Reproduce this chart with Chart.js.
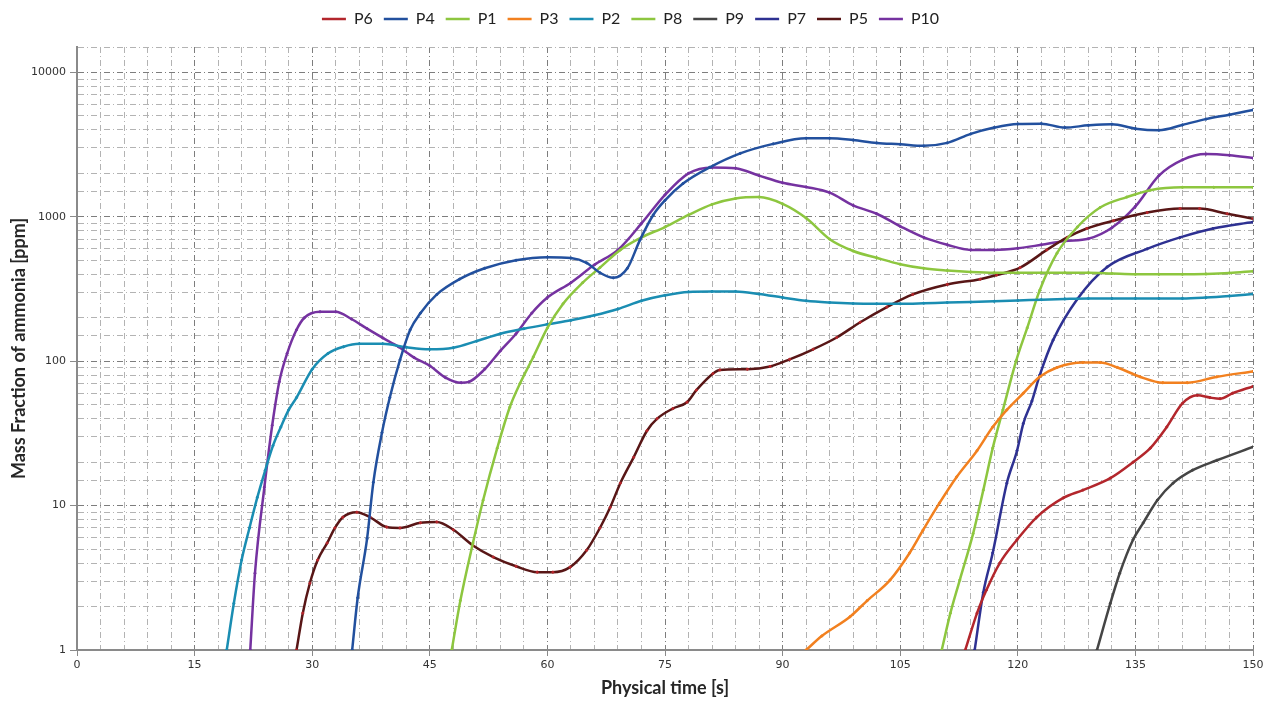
<!DOCTYPE html>
<html>
<head>
<meta charset="utf-8">
<script src="https://cdn.jsdelivr.net/npm/chart.js@4"></script>
<style>
  html, body { margin: 0; padding: 0; background: #fff; }
  #wrap { width: 1271px; height: 707px; }
</style>
</head>
<body>
<div id="wrap"><canvas id="chart"></canvas></div>
<script>
// values (time in s, mass fraction in ppm)
const p6Time = [113.3, 114.8, 116, 117.7, 119.9, 122.4, 125.8, 128.3, 131.8, 134.7, 136.9, 139, 141, 142.9, 144.5, 145.8, 147.4, 150]
const p6Vals = [1, 1.8, 2.6, 4, 5.8, 8.3, 11.3, 12.8, 15.5, 20, 25, 35, 51, 58, 56, 55, 60, 67]

const p4Time = [35.1, 35.8, 37, 37.8, 38.9, 39.9, 41.2, 42.5, 43.8, 45.9, 48.8, 52, 56, 60, 63, 65, 66.7, 68.4, 70.2, 71.8, 73.5, 75, 77.3, 80.7, 84.6, 88.8, 93, 96, 99, 102, 105, 108, 111, 114, 117, 120, 123, 126, 129, 132, 135, 138, 141, 144, 147, 150]
const p4Vals = [1, 2.3, 5.9, 14.5, 32, 56, 102, 165, 215, 290, 370, 440, 500, 525, 518, 480, 410, 378, 440, 690, 1030, 1300, 1700, 2200, 2750, 3200, 3500, 3500, 3400, 3250, 3180, 3100, 3250, 3750, 4150, 4400, 4420, 4150, 4300, 4380, 4080, 3980, 4330, 4750, 5100, 5500]

const p1Time = [47.8, 48.9, 50.5, 51.8, 53.6, 55.2, 56.5, 58.2, 60, 62, 64.5, 66.7, 69.3, 72, 75, 78, 81, 84, 87, 90, 93, 96, 99, 102, 105, 108, 111, 114, 117, 120, 123, 126, 129, 132, 135, 138, 141, 144, 147, 150]
const p1Vals = [1, 2.2, 5.5, 10.9, 25, 48, 70, 107, 170, 250, 350, 445, 590, 720, 850, 1030, 1220, 1340, 1370, 1230, 980, 700, 580, 520, 470, 440, 425, 415, 410, 410, 410, 410, 410, 405, 400, 400, 400, 402, 408, 420]

const p3Time = [93, 95, 98.6, 100.8, 103.7, 106.2, 107.9, 110, 112.2, 114.8, 116.8, 118.6, 120.7, 122.8, 125, 128.3, 130.5, 132.7, 135.6, 138.5, 141.6, 145.4, 150]
const p3Vals = [1, 1.25, 1.7, 2.2, 3.05, 4.7, 6.75, 10.4, 15.8, 24, 35, 46, 60, 78, 90.5, 98, 98, 90.5, 78, 71, 71, 78, 85]

const p2Time = [19.1, 20, 21, 22, 23, 24, 25, 26, 27, 28, 30, 32, 34, 36, 39, 42, 45, 48, 51, 54, 57, 60, 63, 66, 69, 72, 75, 78, 81, 84, 87, 90, 93, 96, 99, 102, 105, 108, 111, 114, 117, 120, 123, 126, 129, 132, 135, 138, 141, 144, 147, 150]
const p2Vals = [1, 2.1, 4.2, 7, 11.4, 17.5, 26, 35, 46, 56, 88, 113, 126, 132, 132, 125, 121, 124, 138, 155, 168, 180, 192, 208, 230, 262, 286, 302, 304, 304, 292, 276, 262, 255, 251, 250, 250, 252, 255, 257, 260, 263, 267, 270, 272, 272, 272, 272, 272, 276, 283, 292]

const p8Time = [110.3, 111.4, 112.6, 114.3, 115.6, 116.8, 118.1, 119.8, 121.2, 122.8, 125, 127.6, 130.5, 133.9, 136.9, 141, 145, 150]
const p8Vals = [1, 1.8, 3.05, 6.4, 12.8, 25, 46, 101, 170, 310, 560, 850, 1160, 1370, 1530, 1600, 1600, 1600]

const p9Time = [130.1, 131.8, 133, 134.7, 136, 137.8, 139.8, 142.3, 145.4, 150]
const p9Vals = [1, 2.1, 3.4, 5.8, 7.6, 10.9, 14.3, 17.6, 20.6, 25.5]

const p7Time = [114.5, 115.6, 116.8, 118.6, 119.9, 120.7, 121.8, 122.8, 124.5, 127.6, 131.4, 136.5, 140.7, 144.9, 150]
const p7Vals = [1, 2.5, 4.7, 14.3, 24, 37, 53, 80, 140, 270, 450, 600, 720, 830, 920]

const p5Time = [28, 28.8, 29.7, 30.7, 31.9, 32.9, 33.9, 35.7, 37.4, 39.5, 41.2, 43.8, 45.9, 48, 50.5, 53.1, 56, 58.7, 60.7, 62.9, 65, 66.7, 68, 69.3, 71, 72.7, 74, 76, 77.8, 79, 81.1, 82, 85.5, 88.4, 90.9, 93.9, 96.9, 99.9, 103.3, 106.6, 111, 115.2, 117.3, 120.3, 123.7, 126.3, 128.8, 132.2, 136.5, 140.7, 143.2, 146.7, 150]
const p5Vals = [1, 1.8, 2.9, 4.2, 5.5, 7, 8.3, 9, 8.3, 7.1, 7, 7.6, 7.7, 6.8, 5.3, 4.4, 3.8, 3.46, 3.46, 3.75, 4.9, 7, 9.7, 14.3, 21.6, 33, 40, 47, 52, 63, 82, 87, 88, 92, 103, 121, 146, 186, 237, 290, 340, 370, 395, 445, 590, 720, 830, 940, 1070, 1140, 1140, 1050, 970]

const p10Time = [22.1, 22.7, 23.9, 24.9, 25.8, 26.8, 28, 29, 31, 33, 35, 37, 39, 41, 43, 45, 47, 49, 50, 52, 54, 56, 58, 60, 63, 66, 69, 72, 75, 78, 81, 84, 87, 90, 93, 96, 99, 102, 105, 108, 111, 114, 117, 120, 123, 126, 129, 132, 135, 138, 141, 144, 147, 150]
const p10Vals = [1, 3.4, 13.4, 36, 72, 113, 165, 200, 220, 220, 196, 168, 145, 126, 106, 93, 77, 71, 72, 88, 118, 155, 215, 276, 350, 465, 590, 900, 1420, 2000, 2200, 2170, 1930, 1720, 1610, 1470, 1200, 1050, 860, 720, 640, 590, 590, 605, 640, 680, 705, 840, 1180, 1930, 2480, 2720, 2670, 2550]

const xTicks = [0, 15, 30, 45, 60, 75, 90, 105, 120, 135, 150]

const pts = (t, v) => t.map((x, i) => ({ x: x, y: v[i] }))

const series = [
    { label: 'P6', data: pts(p6Time, p6Vals), color: '#b3262c' },
    { label: 'P4', data: pts(p4Time, p4Vals), color: '#22509e' },
    { label: 'P1', data: pts(p1Time, p1Vals), color: '#8dc63f' },
    { label: 'P3', data: pts(p3Time, p3Vals), color: '#f2801f' },
    { label: 'P2', data: pts(p2Time, p2Vals), color: '#1a8db2' },
    { label: 'P8', data: pts(p8Time, p8Vals), color: '#8dc63f' },
    { label: 'P9', data: pts(p9Time, p9Vals), color: '#454545' },
    { label: 'P7', data: pts(p7Time, p7Vals), color: '#2e3192' },
    { label: 'P5', data: pts(p5Time, p5Vals), color: '#581616', marker: '#b8262c' },
    { label: 'P10', data: pts(p10Time, p10Vals), color: '#7532a0' }
]

// fixes the legend box height so the plot starts where it does in the picture
const legendHeight = {
    id: 'legendHeight',
    afterInit(chart) {
        const fit = chart.legend.fit
        chart.legend.fit = function () {
            fit.call(this)
            this.height = 47
        }
    }
}

const isDecade = v => Math.abs(Math.log10(v) - Math.round(Math.log10(v))) < 1e-9

new Chart(document.getElementById('chart'), {
    type: 'line',
    data: {
        datasets: series.map(s => ({
            label: s.label,
            data: s.data,
            borderColor: s.color,
            backgroundColor: s.color,
            borderWidth: 2.5,
            pointRadius: 1.1,
            pointBorderWidth: 1,
            pointBorderColor: s.marker || s.color,
            pointBackgroundColor: s.marker || s.color,
            cubicInterpolationMode: 'monotone',
            fill: false
        }))
    },
    options: {
        responsive: true,
        maintainAspectRatio: false,
        animation: false,
        layout: {
            padding: { left: 8, right: 18, top: 0, bottom: 8 }
        },
        plugins: {
            legend: {
                position: 'top',
                labels: {
                    usePointStyle: true,
                    pointStyle: 'line',
                    pointStyleWidth: 24,
                    boxHeight: 10,
                    padding: 11,
                    color: '#222',
                    font: { family: 'Lato', size: 16 },
                    generateLabels: (chart) => Chart.defaults.plugins.legend.labels.generateLabels(chart)
                        .map(item => Object.assign(item, {
                            lineWidth: 2.5,
                            strokeStyle: chart.data.datasets[item.datasetIndex].borderColor
                        }))
                }
            },
            tooltip: { enabled: false }
        },
        scales: {
            x: {
                type: 'linear',
                min: 0,
                max: 150,
                afterFit: (scale) => { scale.height = 49 },
                ticks: {
                    stepSize: 3,
                    autoSkip: false,
                    maxRotation: 0,
                    padding: 3,
                    color: '#333',
                    font: { family: 'DejaVu Sans', size: 11 },
                    callback: (v) => xTicks.includes(v) ? String(v) : ''
                },
                grid: {
                    color: (c) => c.tick && c.tick.value % 15 === 0 ? '#7d7d7d' : '#b3b3b3',
                    lineWidth: 1,
                    tickLength: 6,
                    tickColor: (c) => c.tick && c.tick.value % 15 === 0 ? '#8a8a8a' : 'rgba(0,0,0,0)'
                },
                border: { color: '#8a8a8a', width: 2, dash: [6, 3, 1, 3] },
                title: {
                    display: true,
                    text: 'Physical time [s]',
                    color: '#262626',
                    font: { family: 'Lato', size: 18, weight: 'bold' },
                    padding: { top: 0, bottom: 0 }
                }
            },
            y: {
                type: 'logarithmic',
                min: 1,
                max: 15000,
                afterFit: (scale) => { scale.width = 69 },
                ticks: {
                    autoSkip: false,
                    padding: 4,
                    color: '#333',
                    font: { family: 'DejaVu Sans', size: 11 },
                    callback: (v) => isDecade(v) ? String(v) : ''
                },
                grid: {
                    color: (c) => c.tick && isDecade(c.tick.value) ? '#7d7d7d' : '#b3b3b3',
                    lineWidth: 1,
                    tickLength: 7,
                    tickColor: (c) => c.tick && isDecade(c.tick.value) ? '#8a8a8a' : 'rgba(0,0,0,0)'
                },
                border: { color: '#8a8a8a', width: 2, dash: [6, 3, 1, 3] },
                title: {
                    display: true,
                    text: 'Mass Fraction of ammonia [ppm]',
                    color: '#262626',
                    font: { family: 'Lato', size: 18, weight: 'bold' },
                    padding: { top: 0, bottom: 2 }
                }
            }
        }
    },
    plugins: [legendHeight]
})
</script>
</body>
</html>
